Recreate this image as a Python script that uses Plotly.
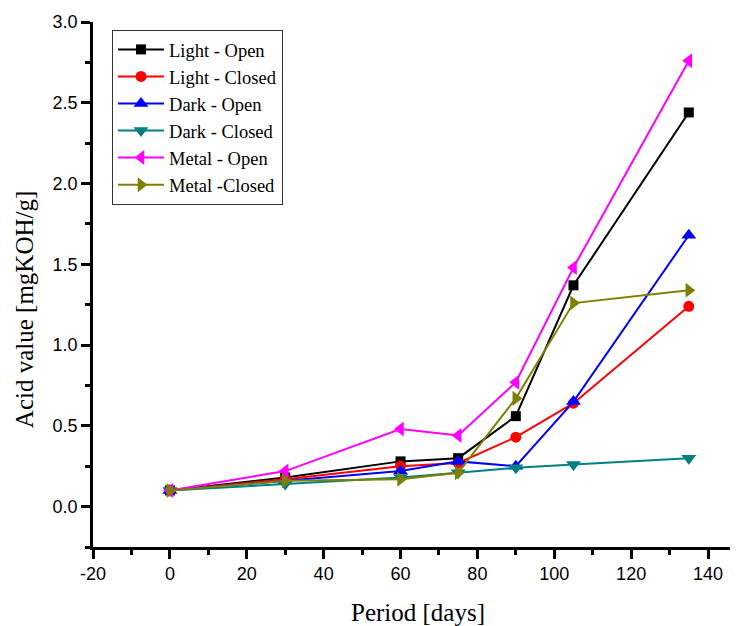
import plotly.graph_objects as go

days = [0, 30, 60, 75, 90, 105, 135]
light_open = [0.10, 0.18, 0.28, 0.30, 0.56, 1.37, 2.44]
light_closed = [0.10, 0.17, 0.25, 0.27, 0.43, 0.64, 1.24]
dark_open = [0.10, 0.16, 0.22, 0.28, 0.25, 0.65, 1.68]
dark_closed = [0.10, 0.14, 0.18, 0.21, 0.24, 0.26, 0.30]
metal_open = [0.10, 0.22, 0.48, 0.44, 0.77, 1.48, 2.76]
metal_closed = [0.10, 0.16, 0.17, 0.21, 0.67, 1.26, 1.34]

x_ticks = [-20, 0, 20, 40, 60, 80, 100, 120, 140]
x_ticklabels = ["-20", "0", "20", "40", "60", "80", "100", "120", "140"]
y_ticks = [0, 0.5, 1.0, 1.5, 2.0, 2.5, 3.0]
y_ticklabels = ["0.0", "0.5", "1.0", "1.5", "2.0", "2.5", "3.0"]

series = [
    ("Light - Open", light_open, "#000000", "square", 10),
    ("Light - Closed", light_closed, "#FF0000", "circle", 11),
    ("Dark - Open", dark_open, "#0000FF", "triangle-up", 13),
    ("Dark - Closed", dark_closed, "#008080", "triangle-down", 13),
    ("Metal - Open", metal_open, "#FF00FF", "triangle-left", 13),
    ("Metal -Closed", metal_closed, "#808000", "triangle-right", 13),
]

fig = go.Figure()
for name, vals, color, sym, sz in series:
    fig.add_trace(go.Scatter(
        x=days, y=vals, name=name, mode="lines+markers",
        line=dict(color=color, width=2),
        marker=dict(symbol=sym, size=sz, color=color),
    ))

tick_font = dict(family="Liberation Sans", size=18, color="black")
title_font = dict(family="Liberation Serif", size=25, color="black")

# page body has an 8px margin, so the figure is sized/offset to compensate
fig.update_layout(
    width=730, height=618,
    margin=dict(l=85, r=0, t=14, b=79),
    plot_bgcolor="white", paper_bgcolor="white",
    legend=dict(
        x=0.0295, y=0.985, xanchor="left", yanchor="top",
        bordercolor="#333333", borderwidth=1, bgcolor="white",
        font=dict(family="Liberation Serif", size=18.5, color="#000000"),
        tracegroupgap=0, itemwidth=46,
    ),
    xaxis=dict(
        range=[-20, 147.8], tickvals=x_ticks, ticktext=x_ticklabels,
        automargin=False,
        showline=True, linecolor="black", linewidth=2.5,
        ticks="outside", ticklen=9, tickwidth=2.5, tickcolor="black",
        minor=dict(ticks="outside", ticklen=5, tickwidth=2.5, tickcolor="black", dtick=10, tick0=-20),
        showgrid=False, zeroline=False,
        tickfont=tick_font,
    ),
    yaxis=dict(
        range=[-0.25, 3.0], tickvals=y_ticks, ticktext=y_ticklabels,
        automargin=False,
        showline=True, linecolor="black", linewidth=2.5,
        ticks="outside", ticklen=9, tickwidth=2.5, tickcolor="black",
        minor=dict(ticks="outside", ticklen=5, tickwidth=2.5, tickcolor="black", dtick=0.25, tick0=0),
        showgrid=False, zeroline=False,
        tickfont=tick_font,
    ),
    annotations=[
        dict(text="Period [days]", xref="paper", yref="paper", x=0.504, y=-0.124,
             xanchor="center", yanchor="middle", showarrow=False, font=title_font),
        dict(text="Acid value [mgKOH/g]", xref="paper", yref="paper", x=-0.107, y=0.453,
             xanchor="center", yanchor="middle", showarrow=False, textangle=-90, font=title_font),
    ],
)

fig.write_html("out.html")
